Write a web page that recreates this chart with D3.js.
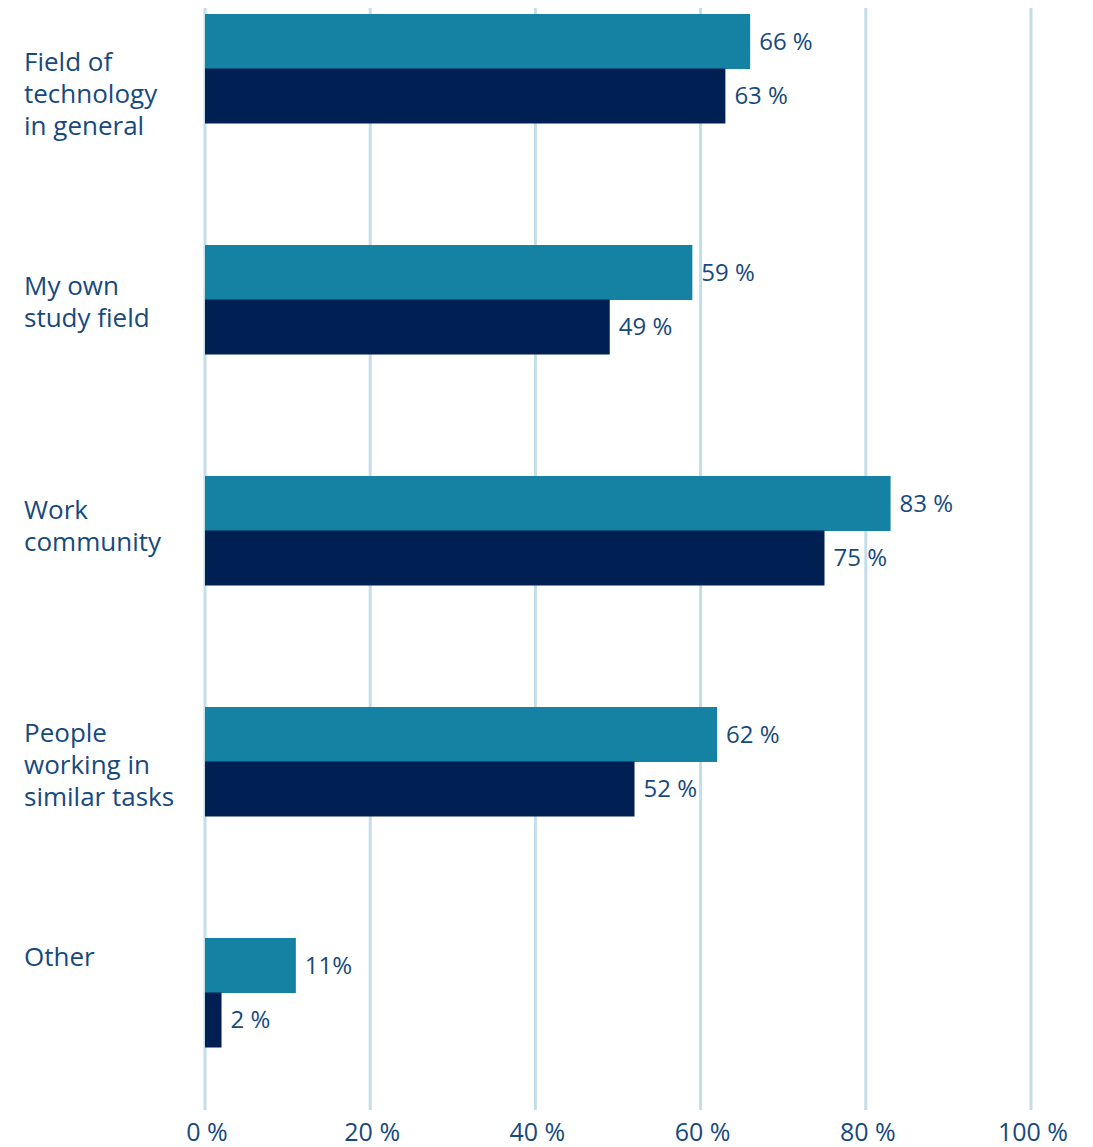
<!DOCTYPE html>
<html>
<head>
<meta charset="utf-8">
<script src="https://cdn.jsdelivr.net/npm/d3@7"></script>
<style>
  html, body { margin: 0; padding: 0; background: #fff; }
  svg { display: block; font-family: "Open Sans", "Noto Sans", sans-serif; }
</style>
</head>
<body>
<svg id="chart" width="1093" height="1147"></svg>
<script>
// ---- data ----
const categories = ["Field of technology in general", "My own study field", "Work community", "People working in similar tasks", "Other"];
const categoryLines = [["Field of", "technology", "in general"], ["My own", "study field"], ["Work", "community"], ["People", "working in", "similar tasks"], ["Other"]];
const seriesNames = ["series1", "series2"];
const series1 = [66, 59, 83, 62, 11];
const series2 = [63, 49, 75, 52, 2];
const valueLabels1 = ["66 %", "59 %", "83 %", "62 %", "11%"];
const valueLabels2 = ["63 %", "49 %", "75 %", "52 %", "2 %"];
const tickValues = [0, 20, 40, 60, 80, 100];
const tickLabels = ["0 %", "20 %", "40 %", "60 %", "80 %", "100 %"];

// ---- styles ----
const colors = ["#1582a3", "#001f52"];
const textColor = "#17497d";
const gridColor = "#c3dee8";

const svg = d3.select("#chart");

const x = d3.scaleLinear().domain([0, 100]).range([205, 1031]);

const step = 231;
const bw = 109;
const y = d3.scaleBand()
  .domain(categories)
  .range([14, 14 + 4 * step + bw])
  .paddingInner(1 - bw / step)
  .paddingOuter(0);

const ySub = d3.scaleBand().domain(seriesNames).range([0, y.bandwidth()]);

const yLabel = d3.scalePoint().domain(categories).range([62, 957]);

// gridlines
svg.append("g").selectAll("line")
  .data(tickValues)
  .join("line")
  .attr("x1", d => x(d)).attr("x2", d => x(d))
  .attr("y1", 8).attr("y2", 1110)
  .attr("stroke", gridColor)
  .attr("stroke-width", 3);

// tick labels
svg.append("g").selectAll("text")
  .data(tickValues)
  .join("text")
  .attr("x", d => x(d) + 2)
  .attr("y", 1141)
  .attr("text-anchor", "middle")
  .attr("fill", textColor)
  .attr("font-size", 25)
  .text((d, i) => tickLabels[i]);

// bars
const rows = categories.map((c, i) => ({
  cat: c,
  vals: [
    { s: seriesNames[0], v: series1[i], label: valueLabels1[i], color: colors[0] },
    { s: seriesNames[1], v: series2[i], label: valueLabels2[i], color: colors[1] }
  ]
}));

const g = svg.append("g").selectAll("g")
  .data(rows)
  .join("g")
  .attr("transform", d => `translate(0,${y(d.cat)})`);

g.selectAll("rect")
  .data(d => d.vals)
  .join("rect")
  .attr("x", x(0))
  .attr("y", d => ySub(d.s))
  .attr("width", d => x(d.v) - x(0))
  .attr("height", ySub.bandwidth() + 0.5)
  .attr("fill", d => d.color);

g.selectAll("text")
  .data(d => d.vals)
  .join("text")
  .attr("x", d => x(d.v) + 9)
  .attr("y", d => ySub(d.s) + ySub.bandwidth() / 2)
  .attr("dy", "0.35em")
  .attr("fill", textColor)
  .attr("font-size", 24)
  .text(d => d.label);

// category labels
const lab = svg.append("g").selectAll("text")
  .data(categories)
  .join("text")
  .attr("x", 24)
  .attr("y", d => yLabel(d))
  .attr("fill", textColor)
  .attr("font-size", 26);

lab.selectAll("tspan")
  .data((d, i) => categoryLines[i])
  .join("tspan")
  .attr("x", 24)
  .attr("dy", (d, i) => i === 0 ? "0.35em" : 32)
  .text(d => d);
</script>
</body>
</html>
